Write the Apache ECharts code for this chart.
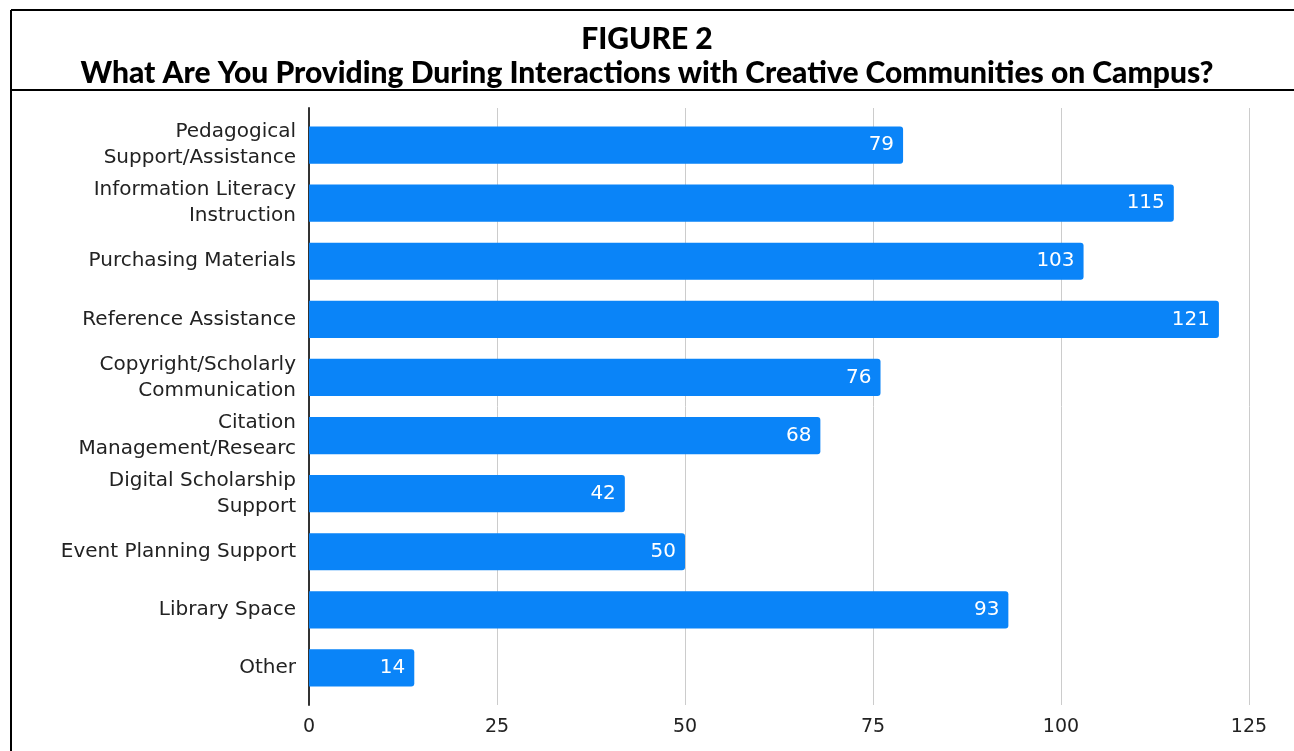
<!DOCTYPE html>
<html>
<head>
<meta charset="utf-8">
<script src="https://cdn.jsdelivr.net/npm/echarts@6/dist/echarts.min.js"></script>
<style>
  html, body { margin: 0; padding: 0; background: #fff; }
  #chart { width: 1294px; height: 751px; }
</style>
</head>
<body>
<div id="chart"></div>
<script>
const categories = [
  'Pedagogical\nSupport/Assistance',
  'Information Literacy\nInstruction',
  'Purchasing Materials',
  'Reference Assistance',
  'Copyright/Scholarly\nCommunication',
  'Citation\nManagement/Researc',
  'Digital Scholarship\nSupport',
  'Event Planning Support',
  'Library Space',
  'Other'
];
const counts = [79, 115, 103, 121, 76, 68, 42, 50, 93, 14];
const ticks = [0, 25, 50, 75, 100, 125];

const chart = echarts.init(document.getElementById('chart'));
chart.setOption({
  animation: false,
  title: [
    {
      text: 'FIGURE 2',
      left: 'center', top: 19,
      textStyle: { fontFamily: 'Lato', fontWeight: 900, fontSize: 30, color: '#000' }
    },
    {
      text: 'What Are You Providing During Interactions with Creative Communities on Campus?',
      left: 'center', top: 53,
      textStyle: { fontFamily: 'Lato', fontWeight: 900, fontSize: 30, color: '#000' }
    }
  ],
  graphic: [
    { type: 'line', shape: { x1: 11, y1: 10, x2: 1294, y2: 10 }, style: { stroke: '#000', lineWidth: 2 } },
    { type: 'line', shape: { x1: 11, y1: 10, x2: 11, y2: 751 }, style: { stroke: '#000', lineWidth: 2 } },
    { type: 'line', shape: { x1: 11, y1: 90, x2: 1294, y2: 90 }, style: { stroke: '#000', lineWidth: 2 } }
  ],
  grid: [
    { left: 309, right: 45, top: 116, bottom: 54 },
    { left: 309, right: 45, top: 108, bottom: 46 }
  ],
  xAxis: [
    {
      gridIndex: 0, type: 'value', min: 0, max: 125, interval: 25,
      axisLine: { show: false }, axisTick: { show: false },
      axisLabel: { show: false }, splitLine: { show: false }
    },
    {
      gridIndex: 1, type: 'value', min: ticks[0], max: ticks[ticks.length - 1], interval: 25,
      axisLine: { show: false }, axisTick: { show: false },
      axisLabel: { color: '#222', fontSize: 19, fontFamily: 'DejaVu Sans', margin: 13 },
      splitLine: { lineStyle: { color: '#cccccc', width: 1 } }
    }
  ],
  yAxis: [
    {
      gridIndex: 0, type: 'category', data: categories, inverse: true,
      axisLine: { show: false }, axisTick: { show: false },
      axisLabel: { color: '#222', fontSize: 20, fontFamily: 'DejaVu Sans', lineHeight: 26, margin: 13, align: 'right' }
    },
    {
      gridIndex: 1, type: 'category', data: [''],
      axisLine: { lineStyle: { color: '#333', width: 2 } },
      axisTick: { show: false }, axisLabel: { show: false }
    }
  ],
  series: [{
    type: 'bar',
    xAxisIndex: 0, yAxisIndex: 0,
    data: counts,
    barCategoryGap: '36%',
    itemStyle: { color: '#0a84f8', borderRadius: [0, 3, 3, 0] },
    label: {
      show: true, position: 'insideRight', distance: 9,
      color: '#fff', fontSize: 20, fontFamily: 'DejaVu Sans'
    },
    z: 3
  }]
});
</script>
</body>
</html>
